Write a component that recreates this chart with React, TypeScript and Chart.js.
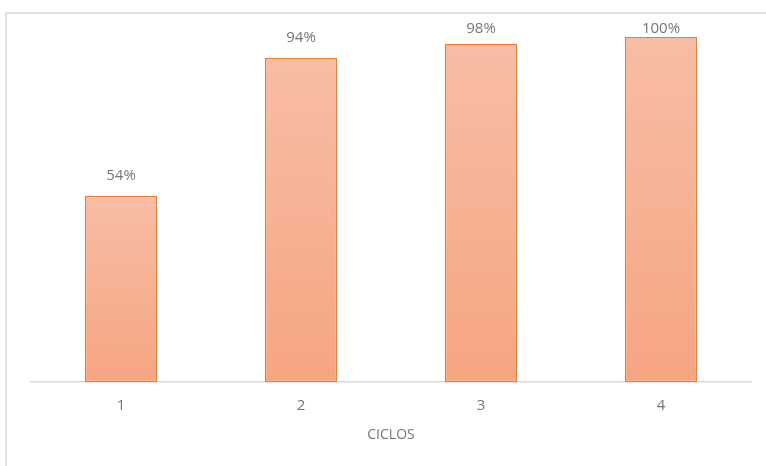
import React, { useEffect, useRef } from "react";
import { Chart, registerables } from "chart.js";

Chart.register(...registerables);

const categories = ["1", "2", "3", "4"];
const values = [0.54, 0.94, 0.98, 1.0];
const valueLabels = ["54%", "94%", "98%", "100%"];
const axisTitle = "CICLOS";

const FONT = "'Open Sans', sans-serif";
const TEXT = "#767676";

const frame = {
  id: "frame",
  beforeDraw(chart: any) {
    const ctx = chart.ctx;
    ctx.save();
    ctx.fillStyle = "#ffffff";
    ctx.fillRect(0, 0, chart.width, chart.height);
    ctx.strokeStyle = "#d9d9d9";
    ctx.lineWidth = 1.5;
    ctx.beginPath();
    ctx.moveTo(6, chart.height + 5);
    ctx.lineTo(6, 13);
    ctx.lineTo(chart.width + 5, 13);
    ctx.stroke();
    ctx.restore();
  },
};

const labelsPlugin = {
  id: "valueLabels",
  afterDatasetsDraw(chart: any) {
    const ctx = chart.ctx;
    const meta = chart.getDatasetMeta(0);
    ctx.save();
    ctx.fillStyle = TEXT;
    ctx.font = `15px ${FONT}`;
    ctx.textAlign = "center";
    ctx.textBaseline = "alphabetic";
    meta.data.forEach((el: any, i: number) => {
      const yPos = Math.max(el.y - 16, 33);
      ctx.fillText(valueLabels[i], el.x, yPos);
    });
    ctx.restore();
  },
};

export default function App() {
  const ref = useRef<HTMLCanvasElement>(null);
  useEffect(() => {
    const chart = new Chart(ref.current!, {
      type: "bar",
      data: {
        labels: categories,
        datasets: [
          {
            data: values,
            backgroundColor: (c: any) => {
              const chart = c.chart;
              const area = chart.chartArea;
              if (!area) return "#f7b194";
              const v = c.raw as number;
              const y = chart.scales.y;
              const top = y.getPixelForValue(v);
              const bottom = y.getPixelForValue(0);
              const g = chart.ctx.createLinearGradient(0, top, 0, bottom);
              g.addColorStop(0, "#f8bda5");
              g.addColorStop(1, "#f6a582");
              return g;
            },
            borderColor: "#ed7d31",
            borderWidth: 1.5,
            borderSkipped: false,
            barPercentage: 0.4,
            categoryPercentage: 1,
          },
        ],
      },
      options: {
        responsive: false,
        animation: false,
        devicePixelRatio: 1,
        layout: { padding: { left: 31, right: 15, top: 37, bottom: 19 } },
        plugins: { legend: { display: false }, tooltip: { enabled: false } },
        scales: {
          y: { display: false, min: 0, max: 1 },
          x: {
            grid: { display: false, drawTicks: false },
            border: { display: true, color: "#d9d9d9", width: 1.5 },
            ticks: { color: TEXT, font: { family: FONT, size: 15 }, padding: 15 },
            title: {
              display: true,
              text: axisTitle,
              color: TEXT,
              font: { family: FONT, size: 14 },
              padding: { top: -4, bottom: 4 },
            },
          },
        },
      },
      plugins: [frame, labelsPlugin],
    });
    return () => chart.destroy();
  }, []);
  return (
    <div style={{ position: "fixed", left: 0, top: 0, width: 766, height: 466 }}>
      <canvas ref={ref} width={766} height={466} style={{ display: "block" }} />
    </div>
  );
}
